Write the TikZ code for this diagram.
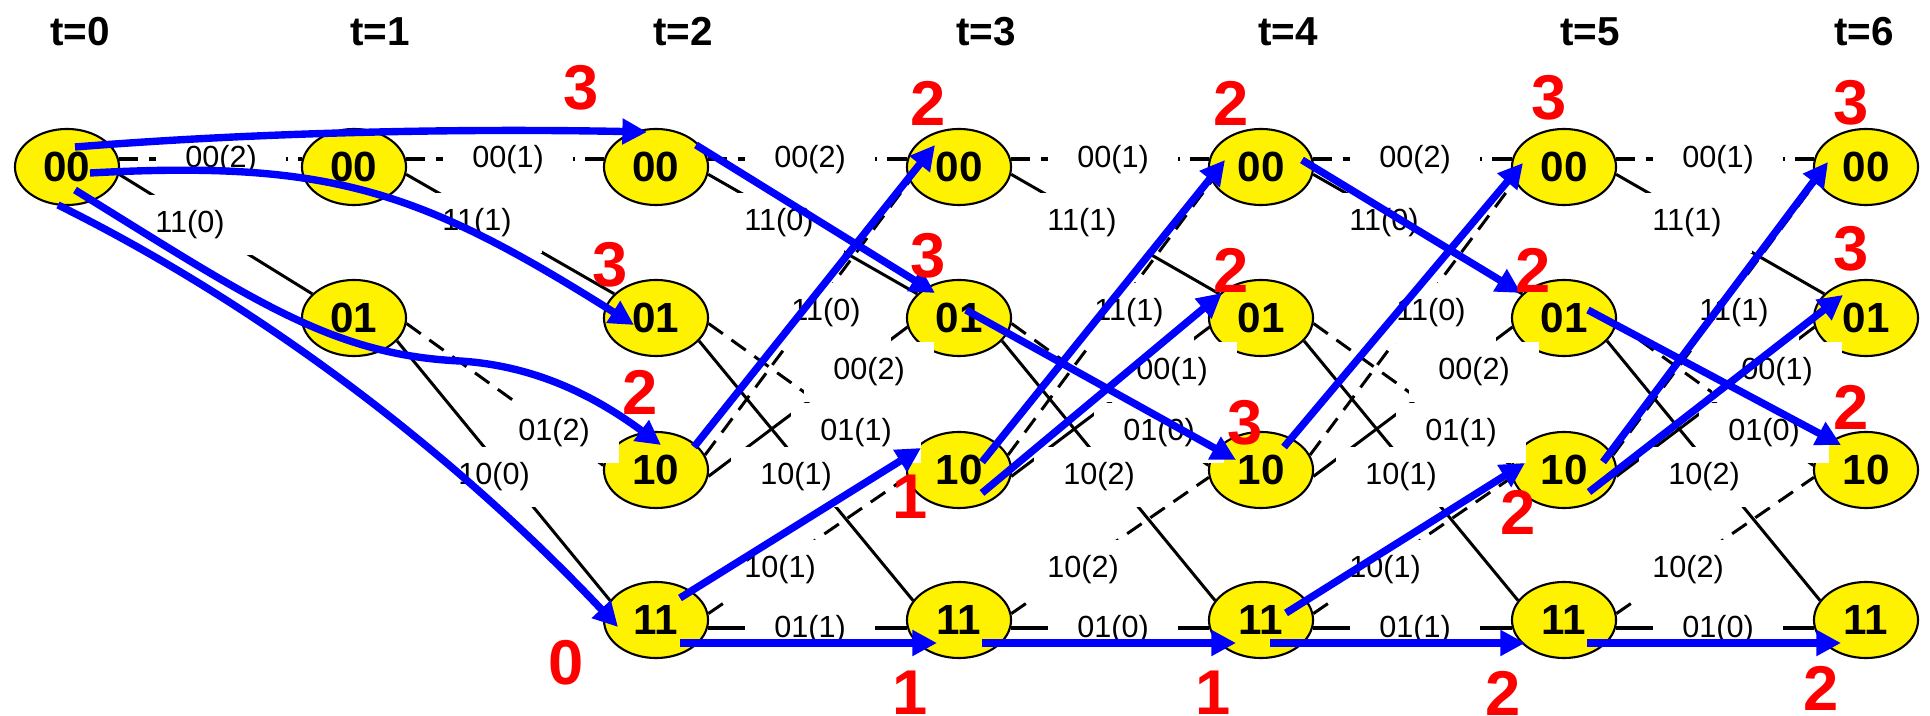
\documentclass[tikz,border=0pt]{standalone}
\usepackage{fontspec}
\setmainfont{Liberation Sans}
\usetikzlibrary{arrows.meta,shapes.geometric,calc}
\begin{document}
\begin{tikzpicture}[x=0.01cm,y=-0.01cm,
 st/.style={ellipse,draw=black,line width=0.6pt,fill=yellow,minimum width=1.04cm,minimum height=0.76cm,inner sep=0pt,font=\bfseries\fontsize{12}{12}\selectfont},
 dsh/.style={draw=black,line width=0.85pt,dash pattern=on 5pt off 3pt},
 sld/.style={draw=black,line width=0.85pt},
 hdsh/.style={draw=black,line width=1.2pt,dash pattern=on 5.5pt off 3pt},
 hsld/.style={draw=black,line width=1.2pt},
 lab/.style={fill=white,minimum width=37pt,minimum height=17pt,inner sep=0pt,font=\fontsize{8.7}{9}\selectfont},
 surv/.style={draw=blue,line width=2.1pt,-{Triangle[length=7pt,width=7pt]}},
 met/.style={text=red,font=\bfseries\fontsize{18}{18}\selectfont,inner sep=0pt},
 tlab/.style={font=\bfseries\fontsize{11.5}{12}\selectfont,inner sep=0pt}]
\useasboundingbox (0,0) rectangle (1930,716);

% time labels
\node[tlab] (t0) at (80,32) {t=0};
\node[tlab] (t1) at (380,32) {t=1};
\node[tlab] (t2) at (683,32) {t=2};
\node[tlab] (t3) at (986,32) {t=3};
\node[tlab] (t4) at (1288,32) {t=4};
\node[tlab] (t5) at (1590,32) {t=5};
\node[tlab] (t6) at (1864,32) {t=6};

% states
\node[st] (A0) at (67,167) {00};
\node[st] (A1) at (354,167) {00};
\node[st] (B1) at (354,318) {01};
\foreach \k/\x in {2/656,3/959,4/1261,5/1564,6/1866} {
  \node[st] (A\k) at (\x,167) {00};
  \node[st] (B\k) at (\x,318) {01};
  \node[st] (C\k) at (\x,470) {10};
  \node[st] (D\k) at (\x,620) {11};
}

% trellis branches
\draw[hdsh] (A0.9) -- (A1.171);
\draw[sld] (A0.-8) -- (B1.150);
\draw[hdsh] (A1.9) -- (A2.171);
\draw[sld] (A1.-8) -- (B2.150);
\draw[dsh] (B1.-6) -- (C2.175);
\draw[sld] (B1.-28) -- (D2.157);
\foreach \k/\n in {2/3,3/4,4/5,5/6} {
  \draw[hdsh] (A\k.9) -- (A\n.171);
  \draw[sld] (A\k.-8) -- (B\n.150);
  \draw[dsh] (B\k.-6) -- (C\n.175);
  \draw[sld] (B\k.-28) -- (D\n.157);
  \draw[dsh] (C\k.17) -- (A\n.196);
  \draw[sld] (C\k.-7) -- (B\n.190);
  \draw[dsh] (D\k.7) -- (C\n.188);
  \draw[hsld] (D\k.-9) -- (D\n.189);
}

% branch labels
\node[lab] (La0) at (221,160) {00(2)};
\node[lab] (Lb0) at (190,225) {11(0)};
\node[lab] (La1) at (508,160) {00(1)};
\node[lab] (Lb1) at (477,223) {11(1)};
\node[lab] (Le1) at (554,433) {01(2)};
\node[lab] (Lf1) at (494,477) {10(0)};
\foreach \k/\x/\ma/\mb/\mc/\md in {2/656/2/0/1/1, 3/959/1/1/0/2, 4/1261/2/0/1/1, 5/1564/1/1/0/2} {
  \node[lab] (La\k) at (\x+154,160) {00(\ma)};
  \node[lab] (Lb\k) at (\x+123,223) {11(\mb)};
  \node[lab] (Lc\k) at (\x+170,313) {11(\mb)};
  \node[lab] (Ld\k) at (\x+213,372) {00(\ma)};
  \node[lab] (Le\k) at (\x+200,433) {01(\mc)};
  \node[lab] (Lf\k) at (\x+140,477) {10(\md)};
  \node[lab] (Lg\k) at (\x+124,570) {10(\md)};
  \node[lab] (Lh\k) at (\x+154,630) {01(\mc)};
}

% survivor paths
\draw[surv] ([shift={(8,-20)}]A0.center) .. controls (250,133) and (450,128) .. ([shift={(-9,-35)}]A2.center);
\draw[surv] ([shift={(23,6)}]A0.center) .. controls (330,160) and (420,190) .. ([shift={(-22,7)}]B2.center);
\draw[surv] ([shift={(8,23)}]A0.center) .. controls (250,298) and (330,355) .. (460,361) .. controls (540,366) and (600,400) .. ([shift={(5,-25)}]C2.center);
\draw[surv] ([shift={(-9,38)}]A0.center) .. controls (280,315) and (470,470) .. ([shift={(-38,7)}]D2.center);
\draw[surv] ([shift={(40,-22)}]A2.center) -- ([shift={(-24,-25)}]B3.center);
\draw[surv] ([shift={(38,-23)}]C2.center) -- ([shift={(-24,-22)}]A3.center);
\draw[surv] ([shift={(24,-22)}]D2.center) -- ([shift={(-38,-22)}]C3.center);
\draw[surv] ([shift={(24,23)}]D2.center) -- ([shift={(-22,23)}]D3.center);
\draw[surv] ([shift={(7,-8)}]B3.center) -- ([shift={(-25,-10)}]C4.center);
\draw[surv] ([shift={(23,-8)}]C3.center) -- ([shift={(-36,-7)}]A4.center);
\draw[surv] ([shift={(23,23)}]C3.center) -- ([shift={(-39,-25)}]B4.center);
\draw[surv] ([shift={(23,23)}]D3.center) -- ([shift={(-25,23)}]D4.center);
\draw[surv] ([shift={(41,-7)}]A4.center) -- ([shift={(-43,-25)}]B5.center);
\draw[surv] ([shift={(23,-23)}]C4.center) -- ([shift={(-41,-4)}]A5.center);
\draw[surv] ([shift={(25,-7)}]D4.center) -- ([shift={(-39,-7)}]C5.center);
\draw[surv] ([shift={(9,23)}]D4.center) -- ([shift={(-39,23)}]D5.center);
\draw[surv] ([shift={(24,-8)}]B5.center) -- ([shift={(-25,-25)}]C6.center);
\draw[surv] ([shift={(39,-8)}]C5.center) -- ([shift={(-38,-5)}]A6.center);
\draw[surv] ([shift={(25,22)}]C5.center) -- ([shift={(-23,-23)}]B6.center);
\draw[surv] ([shift={(23,23)}]D5.center) -- ([shift={(-25,23)}]D6.center);

% path metrics
\node[met] (m1) at (581,88) {3};
\node[met] (m2) at (610,265) {3};
\node[met] (m3) at (640,392) {2};
\node[met] (m4) at (566,663) {0};
\node[met] (m5) at (928,103) {2};
\node[met] (m6) at (928,256) {3};
\node[met] (m7) at (910,497) {1};
\node[met] (m8) at (910,693) {1};
\node[met] (m9) at (1231,103) {2};
\node[met] (m10) at (1231,270) {2};
\node[met] (m11) at (1245,423) {3};
\node[met] (m12) at (1213,693) {1};
\node[met] (m13) at (1549,98) {3};
\node[met] (m14) at (1533,270) {2};
\node[met] (m15) at (1518,512) {2};
\node[met] (m16) at (1503,693) {2};
\node[met] (m17) at (1851,103) {3};
\node[met] (m18) at (1851,249) {3};
\node[met] (m19) at (1851,407) {2};
\node[met] (m20) at (1821,688) {2};
\end{tikzpicture}
\end{document}
